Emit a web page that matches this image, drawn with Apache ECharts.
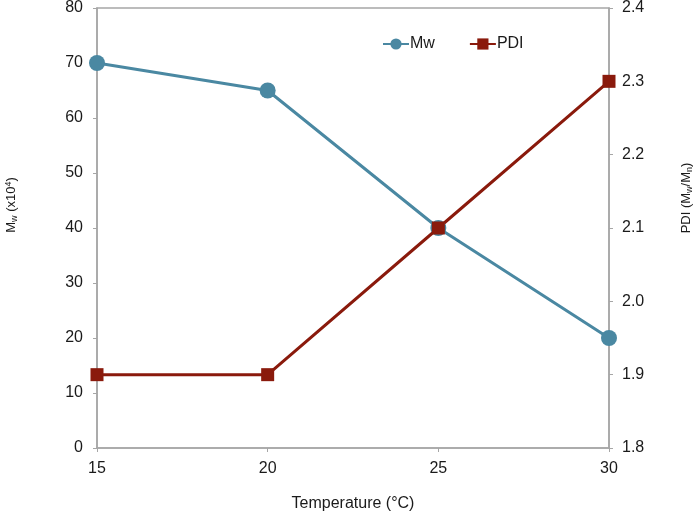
<!DOCTYPE html>
<html><head><meta charset="utf-8">
<script src="https://cdn.jsdelivr.net/npm/echarts@6/dist/echarts.min.js"></script>
<style>html,body{margin:0;padding:0;background:#fff}#c{width:700px;height:515px}</style>
</head><body><div id="c"></div>
<script>
const temps = ['15', '20', '25', '30'];
const mwValues = [70, 65, 40, 20];
const pdiValues = [1.9, 1.9, 2.1, 2.3];
const leftTicks = { min: 0, max: 80, interval: 10 };
const rightTicks = { min: 1.8, max: 2.4, interval: 0.1 };

const FONT = '"Liberation Sans", Arial, sans-serif';
const axisLine = { show: true, lineStyle: { color: '#a6a6a6', width: 1.5 } };
const axisTick = { show: true, length: 4, lineStyle: { color: '#a6a6a6', width: 1 } };
const labelStyle = { color: '#1a1a1a', fontSize: 16, fontFamily: FONT };

const chart = echarts.init(document.getElementById('c'), null, { renderer: 'canvas' });
chart.setOption({
  animation: false,
  backgroundColor: '#fff',
  grid: { left: 97, right: 91, top: 8, bottom: 67, containLabel: false, outerBoundsMode: 'none',
          show: true, borderColor: '#a6a6a6', borderWidth: 1.5 },
  legend: {
    data: ['Mw', 'PDI'],
    left: 377, top: 31,
    itemWidth: 26, itemHeight: 14, itemGap: 34,
    textStyle: { color: '#1a1a1a', fontSize: 16, fontFamily: FONT, padding: [0, 0, 0, -4] }
  },
  xAxis: {
    type: 'category', data: temps, boundaryGap: false,
    axisLine: axisLine, axisTick: { ...axisTick, alignWithLabel: true },
    axisLabel: { ...labelStyle, margin: 13 },
    splitLine: { show: false },
    name: 'Temperature (°C)', nameLocation: 'middle', nameGap: 48,
    nameTextStyle: { color: '#1a1a1a', fontSize: 16, fontFamily: FONT }
  },
  yAxis: [
    {
      type: 'value', min: leftTicks.min, max: leftTicks.max, interval: leftTicks.interval,
      axisLine: axisLine, axisTick: axisTick, splitLine: { show: false },
      axisLabel: { ...labelStyle, margin: 14 },
      name: '{n|M}{s|w}{n| (x10}{p|4}{n|)}', nameLocation: 'middle', nameGap: 78, nameRotate: 90,
      nameTextStyle: {
        color: '#1a1a1a', fontFamily: FONT, padding: [0, 0, 0, 46],
        rich: {
          n: { fontSize: 13, fontFamily: FONT, color: '#1a1a1a' },
          s: { fontSize: 9, fontFamily: FONT, color: '#1a1a1a', padding: [6, 0, 0, 0] },
          p: { fontSize: 9, fontFamily: FONT, color: '#1a1a1a', padding: [0, 0, 6, 0] }
        }
      }
    },
    {
      type: 'value', min: rightTicks.min, max: rightTicks.max, interval: rightTicks.interval, position: 'right',
      axisLine: axisLine, axisTick: axisTick, splitLine: { show: false },
      axisLabel: { ...labelStyle, margin: 13, formatter: v => v.toFixed(1) },
      name: '{n|PDI (M}{s|w}{n|/M}{s|n}{n|)}', nameLocation: 'middle', nameGap: 70, nameRotate: 90,
      nameTextStyle: {
        color: '#1a1a1a', fontFamily: FONT, padding: [0, 0, 0, 60],
        rich: {
          n: { fontSize: 13, fontFamily: FONT, color: '#1a1a1a' },
          s: { fontSize: 9, fontFamily: FONT, color: '#1a1a1a', padding: [6, 0, 0, 0] }
        }
      }
    }
  ],
  series: [
    {
      name: 'Mw', type: 'line', yAxisIndex: 0, data: mwValues,
      symbol: 'circle', symbolSize: 16,
      lineStyle: { color: '#4a88a2', width: 3 },
      itemStyle: { color: '#4a88a2' }
    },
    {
      name: 'PDI', type: 'line', yAxisIndex: 1, data: pdiValues,
      symbol: 'rect', symbolSize: 13,
      lineStyle: { color: '#8a1a0c', width: 3 },
      itemStyle: { color: '#8a1a0c' }
    }
  ]
});
</script>
</body></html>
